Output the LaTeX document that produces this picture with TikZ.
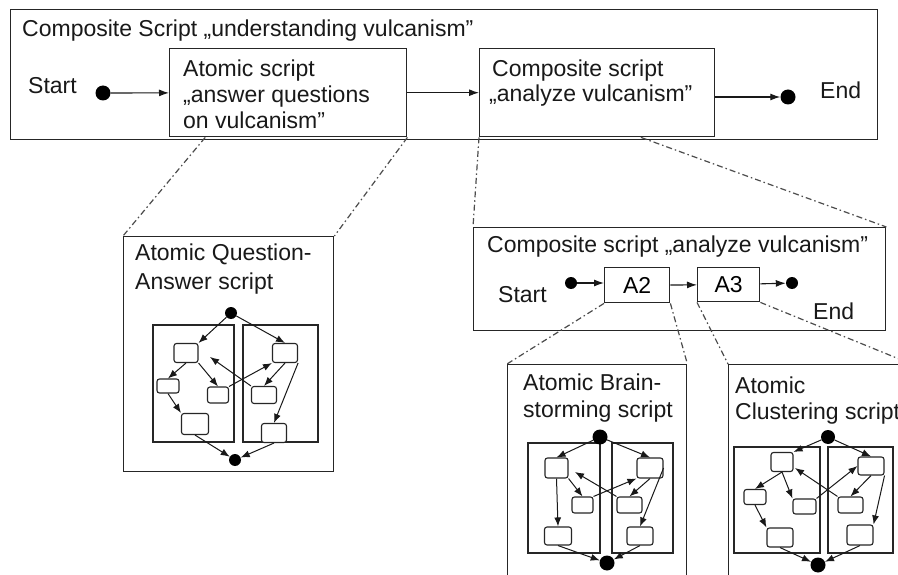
\documentclass[tikz,border=0pt]{standalone}
\usepackage{fontspec}
\setmainfont{Liberation Sans}
\usetikzlibrary{arrows.meta,calc}

\begin{document}
\begin{tikzpicture}[x=1pt,y=-1pt,
  box/.style={draw=black!85, line width=1.4pt, inner sep=0pt, anchor=north west, fill=white,
              font=\fontsize{23}{26}\selectfont},
  txt/.style={font=\fontsize{23}{26}\selectfont, inner sep=0pt, anchor=base west, text=black!90},
  dot/.style={circle, fill=black, inner sep=0pt, minimum size=#1},
  flow/.style={draw=black!90, line width=1.1pt, -{Latex[length=10pt,width=7pt]}},
  zoomline/.style={draw=black!70, line width=1.2pt, dash pattern=on 6pt off 3pt on 1.5pt off 3pt},
  frame/.style={draw=black!85, line width=1.1pt},
  st/.style={draw=black!85, line width=1.1pt, rounded corners=2.5pt, fill=white, inner sep=0pt},
  gedge/.style={draw=black!90, line width=1pt, -{Latex[length=9pt,width=7pt]}}
]
\useasboundingbox (0,0) rectangle (898,575);
\fill[white] (0,0) rectangle (898,575);
\clip (0,0) rectangle (898,575);

% ---------- top level: composite script ----------
\node[box, minimum width=867pt, minimum height=130pt] (outer) at (10,9) {};
\node[txt] (t-title) at (22,37) {Composite Script „understanding vulcanism”};
\node[txt] (t-start) at (28,94) {Start};
\node[dot=15pt] (t-s) at (103,93) {};
\node[box, minimum width=237pt, minimum height=88pt] (as) at (169,48) {};
\node[txt] (as-1) at (183,77) {Atomic script};
\node[txt] (as-2) at (183,103) {„answer questions};
\node[txt] (as-3) at (183,129) {on vulcanism”};
\node[box, minimum width=235pt, minimum height=88pt] (cs) at (479,48) {};
\node[txt] (cs-1) at (492,77) {Composite script};
\node[txt] (cs-2) at (489,102) {„analyze vulcanism”};
\node[dot=15pt] (t-e) at (788,97) {};
\node[txt] (t-end) at (820,99) {End};

\draw[flow] (t-s) -- (as);
\draw[flow] (as) -- (cs);
\draw[flow] (cs.east |- t-e) -- (t-e);

% ---------- refinement of "analyze vulcanism" ----------
\node[box, minimum width=412pt, minimum height=103pt] (ms) at (473,227) {};
\node[txt] (ms-title) at (487,253) {Composite script „analyze vulcanism”};
\node[txt] (m-start) at (498,302) {Start};
\node[dot=12pt] (m-s) at (571,283) {};
\node[box, minimum width=65pt, minimum height=35pt] (a2) at (604,267) {A2};
\node[box, minimum width=62pt, minimum height=34pt] (a3) at (697,267) {A3};
\node[dot=12pt] (m-e) at (792,283) {};
\node[txt] (m-end) at (813,319) {End};

\draw[flow] (m-s) -- (a2.west |- m-s);
\draw[flow] (a2) -- (a3);
\draw[flow] (a3) -- (m-e);

% ---------- atomic scripts ----------
\node[box, minimum width=210pt, minimum height=235pt] (qa) at (123,236) {};
\node[txt] (qa-1) at (135,261) {Atomic Question-};
\node[txt] (qa-2) at (135,290) {Answer script};

\node[box, minimum width=179pt, minimum height=240pt] (bs) at (507,364) {};
\node[txt] (bs-1) at (523,390) {Atomic Brain-};
\node[txt] (bs-2) at (523,417) {storming script};

\node[box, minimum width=182pt, minimum height=240pt] (cl) at (728,364) {};
\node[txt] (cl-1) at (735,393) {Atomic};
\node[txt] (cl-2) at (735,419) {Clustering script};

% ---------- zoom-in connectors ----------
\draw[zoomline] ($(as.south west)!0.152!(as.south east)$) -- (qa.north west);
\draw[zoomline] (as.south east) -- (qa.north east);
\draw[zoomline] (cs.south west) -- (ms.north west);
\draw[zoomline] ($(cs.south west)!0.685!(cs.south east)$) -- (ms.north east);
\draw[zoomline] (a2.south west) -- (bs.north west);
\draw[zoomline] (a2.south east) -- (bs.north east);
\draw[zoomline] (a3.south west) -- (cl.north west);
\draw[zoomline] (a3.south east) -- (cl.north east);

% ---------- question-answer flow ----------
\begin{scope}[shift={(231,313)}]
  \draw[frame] (-78,12) rectangle (3,129);
  \draw[frame] (12,12) rectangle (87,129);
  \node[dot=12pt] (qa-s) at (0,0) {};
  \node[dot=12pt] (qa-e) at (4,147) {};
  \node[st, minimum width=24pt, minimum height=19pt] (qa-l1) at (-45,40) {};
  \node[st, minimum width=22pt, minimum height=14pt] (qa-l2) at (-63,73) {};
  \node[st, minimum width=21pt, minimum height=16pt] (qa-l3) at (-13,82) {};
  \node[st, minimum width=27pt, minimum height=21pt] (qa-l4) at (-36,111) {};
  \node[st, minimum width=25pt, minimum height=19pt] (qa-r1) at (54,40) {};
  \node[st, minimum width=25pt, minimum height=17pt] (qa-r2) at (33,82) {};
  \node[st, minimum width=25pt, minimum height=19pt] (qa-r3) at (43,120) {};
  \coordinate (qa-t) at (-21,44);
  \draw[gedge] (qa-s) -- (qa-l1.north east);
  \draw[gedge] (qa-s) -- (qa-r1.north);
  \draw[gedge] (qa-l1.south) -- (qa-l2.north);
  \draw[gedge] (qa-l1.south east) -- (qa-l3.north);
  \draw[gedge] (qa-l2.south) -- (qa-l4.north west);
  \draw[gedge] (qa-l4.south) -- (qa-e);
  \draw[gedge] (qa-r1.south) -- (qa-r2.north);
  \draw[gedge] (qa-r1.south east) -- (qa-r3.north);
  \draw[gedge] (qa-r3.south) -- (qa-e);
  \draw[gedge] (qa-r2.north west) -- (qa-t);
  \draw[gedge] (qa-l3.north east) -- (qa-r1.south west);
\end{scope}

% ---------- brainstorming flow ----------
\begin{scope}[shift={(600,437)}]
  \draw[frame] (-72,6) rectangle (0,116);
  \draw[frame] (12,6) rectangle (73,116);
  \node[dot=15pt] (bs-s) at (0,0) {};
  \node[dot=15pt] (bs-e) at (7,126) {};
  \node[st, minimum width=23pt, minimum height=20pt] (bs-l1) at (-43.5,31) {};
  \node[st, minimum width=21pt, minimum height=16pt] (bs-l3) at (-17.5,68) {};
  \node[st, minimum width=27pt, minimum height=18pt] (bs-l4) at (-42,99) {};
  \node[st, minimum width=26pt, minimum height=20pt] (bs-r1) at (50,31) {};
  \node[st, minimum width=25pt, minimum height=16pt] (bs-r2) at (29.5,68) {};
  \node[st, minimum width=26pt, minimum height=18pt] (bs-r3) at (40,99) {};
  \coordinate (bs-t) at (-25,35);
  \draw[gedge] (bs-s) -- (bs-l1.north);
  \draw[gedge] (bs-s) -- (bs-r1.north);
  \draw[gedge] (bs-l1.south) -- (bs-l4.north);
  \draw[gedge] (bs-l1.south east) -- (bs-l3.north);
  \draw[gedge] (bs-r1.south) -- (bs-r2.north);
  \draw[gedge] (bs-r1.east) -- (bs-r3.north);
  \draw[gedge] (bs-r2.north west) -- (bs-t);
  \draw[gedge] (bs-l3.north east) -- (bs-r1.south west);
  \draw[gedge] (bs-l4.south) -- (bs-e);
  \draw[gedge] (bs-r3.south) -- (bs-e);
\end{scope}

% ---------- clustering flow ----------
\begin{scope}[shift={(828,437)}]
  \draw[frame] (-94,10) rectangle (-8,116);
  \draw[frame] (0,10) rectangle (65,116);
  \node[dot=14pt] (cl-s) at (0,0) {};
  \node[dot=15pt] (cl-e) at (-10,128) {};
  \node[st, minimum width=22pt, minimum height=19pt] (cl-l1) at (-46,25) {};
  \node[st, minimum width=22pt, minimum height=15pt] (cl-l2) at (-73,60) {};
  \node[st, minimum width=23pt, minimum height=15pt] (cl-l3) at (-23.5,69.5) {};
  \node[st, minimum width=26pt, minimum height=19pt] (cl-l4) at (-48,100.5) {};
  \node[st, minimum width=26pt, minimum height=18pt] (cl-r1) at (43,29) {};
  \node[st, minimum width=25pt, minimum height=16pt] (cl-r2) at (22.5,68) {};
  \node[st, minimum width=26pt, minimum height=20pt] (cl-r3) at (32,98) {};
  \coordinate (cl-t) at (-33,31);
  \draw[gedge] (cl-s) -- (cl-l1.north east);
  \draw[gedge] (cl-s) -- (cl-r1.north);
  \draw[gedge] (cl-l1.south) -- (cl-l2.north);
  \draw[gedge] (cl-l1.south) -- (cl-l3.north west);
  \draw[gedge] (cl-l2.south) -- (cl-l4.north west);
  \draw[gedge] (cl-l4.south) -- (cl-e);
  \draw[gedge] (cl-r3.south) -- (cl-e);
  \draw[gedge] (cl-r1.south) -- (cl-r2.north);
  \draw[gedge] (cl-r1.south east) -- (cl-r3.north east);
  \draw[gedge] (cl-r2.north west) -- (cl-t);
  \draw[gedge] (cl-l3.north east) -- (cl-r1.west);
\end{scope}
\end{tikzpicture}
\end{document}
